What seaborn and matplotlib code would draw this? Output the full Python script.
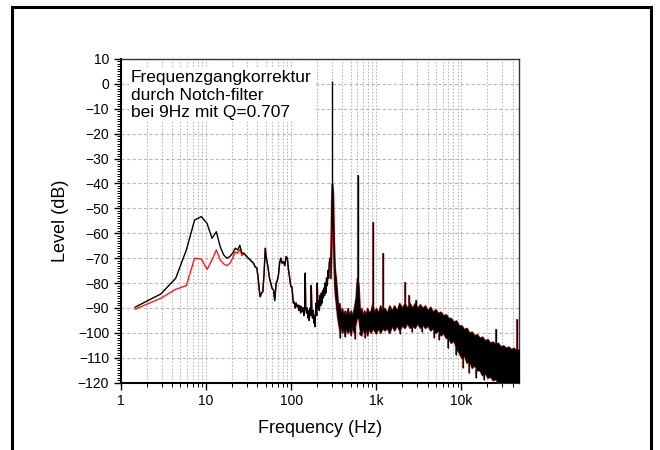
import numpy as np
import pandas as pd
import matplotlib
matplotlib.use("Agg")
import matplotlib.pyplot as plt
import seaborn as sns
from matplotlib.ticker import LogLocator, MultipleLocator, NullFormatter
from matplotlib.patches import Rectangle

# --- data ---
# low-frequency FFT bins (Hz), where the notch correction changes the level
low_freq = [1.46, 2.93, 4.39, 5.86, 7.32, 8.79, 10.25, 11.72, 13.18, 14.65,
            16.11, 17.58, 19.04, 20.51, 21.97, 23.44, 24.90, 26.37]
orig_low = [-89.7, -84.4, -78.1, -66.7, -54.7, -53.3, -56.0, -62.0, -59.4, -65.4,
            -68.7, -70.0, -69.3, -68.0, -66.0, -66.7, -64.8, -68.0]
corr_low = [-90.5, -86.1, -82.5, -81.0, -70.0, -70.3, -74.5, -70.7, -66.7, -70.7,
            -72.3, -73.0, -72.0, -70.0, -67.4, -68.0, -66.4, -69.0]

# 27 Hz .. 285 Hz, both curves identical
mid_freq = [27.8, 30.1, 32.5, 34.5, 36.0, 37.6, 39.5, 41.1, 42.2, 43.2, 44.8, 46.4,
            48.0, 49.5, 51.0, 52.8, 55.6, 57.5, 59.3, 62.0, 64.0, 66.5, 68.5, 70.8,
            73.0, 75.5, 78.0, 81.0, 84.0, 87.0, 90.0, 92.8, 96.0, 99.0,
            101.6, 104, 106, 108.4, 111, 114, 117, 120, 123, 126,
            129, 132, 135, 138, 141, 144, 146, 148, 151, 154,
            157, 160, 163, 166, 169, 172, 175, 178, 181, 184,
            187, 190, 193, 196, 199, 202, 206, 210, 214, 218,
            222, 226, 230, 234, 238, 242, 246, 250, 255, 260,
            265, 270, 275, 280, 285]
mid_db = [-68.0, -69.4, -70.5, -71.4, -72.0, -73.4, -74.0, -78.8, -83.0, -85.5, -84.0, -83.4,
          -76.0, -66.0, -70.0, -72.7, -78.1, -80.0, -82.0, -82.8, -87.0, -80.0, -79.0, -76.7,
          -72.0, -70.0, -72.0, -71.4, -73.0, -69.4, -70.0, -74.7, -78.0, -81.4,
          -81.4, -85, -88, -87.5, -90, -88, -89.5, -88.8, -91, -89,
          -92, -89.5, -91.5, -90, -93, -89, -76, -90, -92, -90,
          -94, -91, -95, -90, -93, -81, -92, -94, -91, -96,
          -93, -97.5, -92, -88, -93, -80, -90, -87, -91, -85,
          -89, -84, -88, -83, -86, -82, -85, -80, -84, -78,
          -81, -75, -78, -72, -70]

# dense noise band above ~290 Hz: upper / lower envelope
band_freq = [288, 294, 298, 304, 310, 316, 324, 334, 345, 356,
             368, 380, 395, 410, 425, 440, 460, 480, 500, 520,
             545, 570, 590, 615, 640, 665, 690, 720, 750, 780,
             820, 860, 900, 940, 990, 1050, 1110, 1180, 1250, 1330,
             1420, 1520, 1620, 1740, 1860, 2000, 2150, 2300, 2460, 2640,
             2830, 3030, 3250, 3480, 3730, 4000, 4300, 4600, 4950, 5300,
             5700, 6100, 6550, 7000, 7500, 8050, 8650, 9300, 10000, 10700,
             11500, 12300, 13200, 14200, 15200, 16300, 17500, 18800, 20200, 21700,
             23300, 25000, 26800, 28800, 30900, 33200, 35600, 38200, 41000, 44000,
             48000]
band_upper = [-70, -50, -40, -40, -45, -62, -74, -78, -84, -90,
              -88, -92, -90, -93, -91, -93, -90, -93, -91, -93,
              -90, -86, -78, -80, -92, -90, -93, -91, -93, -90,
              -92, -91, -88, -92, -90, -92, -89, -91, -90, -92,
              -89, -91, -89, -91, -88, -90, -88, -90, -88, -90,
              -88, -90, -88.5, -90, -89, -91, -89.5, -91.5, -90.5, -92,
              -91.5, -93, -92.5, -94, -94, -95.5, -95, -97, -97, -98.5,
              -98, -100, -99.5, -101, -100.5, -102, -101.5, -103, -102.5, -104,
              -103.5, -104.5, -104, -105.5, -105, -106, -105.5, -106.5, -106, -107,
              -106.5]
band_lower = [-78, -70, -60, -55, -62, -75, -84, -88, -93, -96,
              -99, -97, -100, -98, -101, -98, -100, -98, -101, -97,
              -100, -96, -94, -94, -99, -101, -98, -100, -98, -101,
              -98, -100, -98, -99, -100, -98, -100, -98, -99, -98,
              -100, -97, -99, -97, -99, -97, -98, -96, -98, -97,
              -98, -96, -98, -96.5, -98, -97, -99, -98, -100, -99,
              -101, -100, -102, -102, -104, -103, -106, -108, -110, -109,
              -112, -111, -114, -113, -115, -115, -117, -116, -118, -117.5,
              -119, -118.5, -120, -120, -120, -120, -120, -120, -120, -120,
              -120]

# narrow peaks sticking out of the band (hum harmonics etc.)
spike_freq = [603, 905, 1203, 2150, 2400, 2950, 25700, 44500]
spike_top = [-36.6, -55.6, -68, -79.4, -84.8, -86.8, -98.5, -94.5]
# downward excursions of the noise
dip_freq = [370, 430, 560, 650, 740, 1000, 1400, 1900, 2600, 3400, 4700, 5500,
            6900, 8600, 10400, 12200, 15000, 18500]
dip_db = [-102, -101.5, -102.5, -101, -102, -100.5, -100, -100.5, -99.5, -99.5, -102, -103,
          -106, -109, -114, -116, -118, -119]
# 300 Hz line only in the uncorrected curve
orig_peak_freq = 303
orig_peak_db = 1.3

df = pd.DataFrame({
    "freq": low_freq + mid_freq,
    "orig": orig_low + mid_db,
    "corr": corr_low + mid_db,
})

sns.set_theme(style="ticks")
plt.rcParams["font.family"] = ["Liberation Sans", "DejaVu Sans"]
plt.rcParams["text.color"] = "black"
plt.rcParams["axes.labelcolor"] = "black"

fig = plt.figure(figsize=(6.6, 4.5), dpi=100)
ax = fig.add_axes([0.1833, 0.1496, 0.6038, 0.7193])
ax.set_xscale("log")

log_band = np.log10(band_freq)
spike_base = np.interp(np.log10(spike_freq), log_band, band_upper)
dip_base = np.interp(np.log10(dip_freq), log_band, band_lower)

# corrected curve (red) underneath
sns.lineplot(data=df, x="freq", y="corr", color="#ff1a1a", lw=1.0, ax=ax, zorder=3)
ax.fill_between(band_freq, band_lower, band_upper, color="#b02020", lw=1.2, zorder=3)
ax.vlines(spike_freq, spike_base, spike_top, color="#a02020", lw=1.3, zorder=3)
ax.vlines(dip_freq, dip_db, dip_base, color="#a02020", lw=1.2, zorder=3)

# original curve (black) on top
sns.lineplot(data=df, x="freq", y="orig", color="black", lw=1.0, ax=ax, zorder=4)
ax.fill_between(band_freq, band_lower, band_upper, color="black", lw=0.3, zorder=4)
ax.vlines(spike_freq, spike_base, spike_top, color="black", lw=1.0, zorder=4)
ax.vlines(dip_freq, dip_db, dip_base, color="black", lw=0.9, zorder=4)
ax.vlines([orig_peak_freq], -40, orig_peak_db, color="black", lw=1.0, zorder=4)

ax.set_xlim(1, 48000)
ax.set_ylim(-120, 10)
ax.set_xticks([1, 10, 100, 1000, 10000])
ax.set_xticklabels(["1", "10", "100", "1k", "10k"])
ax.xaxis.set_minor_locator(LogLocator(base=10, subs=np.arange(2, 10), numticks=20))
ax.xaxis.set_minor_formatter(NullFormatter())
ax.set_yticks(np.arange(-120, 11, 10))
ax.yaxis.set_minor_locator(MultipleLocator(1))

ax.tick_params(which="major", direction="out", length=5, width=1, labelsize=10,
               colors="black", labelcolor="black")
ax.tick_params(which="minor", direction="out", length=3, width=0.7, colors="black")

ax.yaxis.grid(True, which="major", ls=(0, (3, 2)), color="#b8b8b8", lw=0.8)
ax.xaxis.grid(True, which="both", ls=(0, (1.5, 1.5)), color="#b8b8b8", lw=0.8)
ax.set_axisbelow(True)

for side in ["left", "bottom"]:
    ax.spines[side].set_linewidth(1.5)
    ax.spines[side].set_color("black")
for side in ["top", "right"]:
    ax.spines[side].set_linewidth(1.0)
    ax.spines[side].set_color("#333333")

ax.set_xlabel("Frequency (Hz)", fontsize=13, labelpad=8, color="black")
ax.set_ylabel("Level (dB)", fontsize=13, labelpad=6, color="black")

ax.text(0.025, 0.965, "Frequenzgangkorrektur\ndurch Notch-filter\nbei 9Hz mit Q=0.707",
        transform=ax.transAxes, ha="left", va="top", fontsize=12.5, zorder=6,
        color="black", bbox=dict(facecolor="white", edgecolor="none", pad=1.5))

# outer frame of the exported graph page
fig.patches.append(Rectangle((12 / 660, -0.05), 639 / 660, 1.05 - 6.5 / 450,
                             transform=fig.transFigure, fill=False,
                             edgecolor="black", lw=2.2))

fig.savefig("out.png", dpi=100)
